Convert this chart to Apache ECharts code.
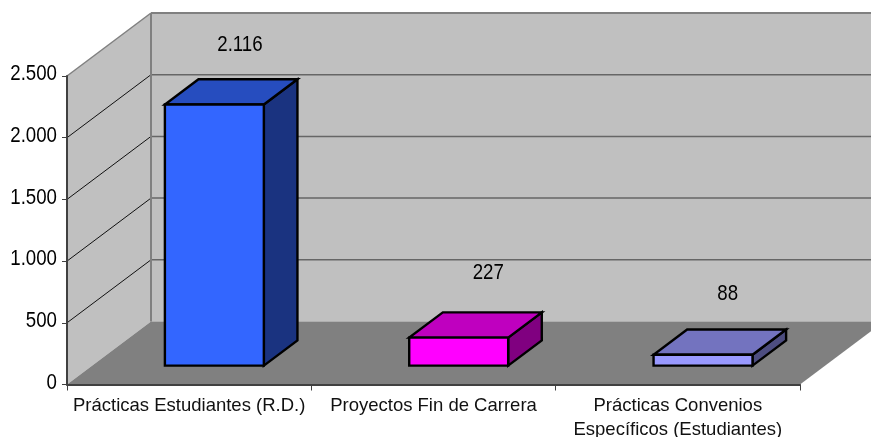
<!DOCTYPE html>
<html><head><meta charset="utf-8">
<style>html,body{margin:0;padding:0;background:#fff}#c{width:871px;height:437px}</style>
<script src="https://cdn.jsdelivr.net/npm/echarts@6/dist/echarts.min.js"></script>
</head><body><div id="c"></div>
<script>
const categories = ['Prácticas Estudiantes (R.D.)', 'Proyectos Fin de Carrera', 'Prácticas Convenios\nEspecíficos (Estudiantes)'];
const values = [2116, 227, 88];
const valueLabels = ['2.116', '227', '88'];
const yTicks = [0, 500, 1000, 1500, 2000, 2500];
const yTickLabels = ['0', '500', '1.000', '1.500', '2.000', '2.500'];
const frontColors = ['#3366FF', '#FF00FF', '#9999FF'];
const topColors = ['#264DBF', '#BF00BF', '#7373BF'];
const sideColors = ['#1A3380', '#800080', '#4D4D80'];

const DX = 84, DY = -63, BAR_FRONT = 0.3, BAR_BACK = 0.7, BAR_W = 0.405;
const SANS = '"Liberation Sans",Arial,sans-serif';
const NARROW_SIZE = 22.5, NARROW_SCALE = 0.83;
const LABEL_NUDGE_X = [-8, -4, -9], LABEL_NUDGE_Y = [-34, -40, -36];

function shift(p, d) { return [p[0] + DX * d, p[1] + DY * d]; }
function poly(points, fill, stroke, lw) {
  return { type: 'polygon', shape: { points }, style: { fill, stroke: stroke || 'none', lineWidth: lw || 0, lineJoin: 'miter' } };
}
function line(a, b, stroke, lw) {
  return { type: 'line', shape: { x1: a[0], y1: a[1], x2: b[0], y2: b[1] }, style: { stroke, lineWidth: lw } };
}
function narrowText(text, x, y, align) {
  return { type: 'text', x, y, scaleX: NARROW_SCALE,
    style: { text, x: 0, y: 0, align, verticalAlign: 'middle', fill: '#000', fontSize: NARROW_SIZE, fontFamily: SANS } };
}

function renderWalls(params, api) {
  const half = api.size([1, 0])[0] / 2;
  const maxV = yTicks[yTicks.length - 1];
  const L = v => { const p = api.coord([0, v]); return [p[0] - half, p[1]]; };
  const R = v => { const p = api.coord([categories.length - 1, v]); return [p[0] + half, p[1]]; };
  const kids = [];
  kids.push(poly([shift(L(0), 1), shift(R(0), 1), shift(R(maxV), 1), shift(L(maxV), 1)], '#C0C0C0'));
  kids.push(poly([L(0), shift(L(0), 1), shift(L(maxV), 1), L(maxV)], '#C0C0C0'));
  kids.push(poly([L(0), R(0), shift(R(0), 1), shift(L(0), 1)], '#808080'));
  yTicks.forEach((v, i) => {
    kids.push(narrowText(yTickLabels[i], L(v)[0] - 10, L(v)[1] - 2, 'right'));
    if (v === 0) return;
    if (v === maxV) {
      kids.push(line(L(v), shift(L(v), 1), '#808080', 1.5));
      kids.push(line(shift(L(v), 1), shift(R(v), 1), '#808080', 2));
    } else {
      kids.push(line(L(v), shift(L(v), 1), '#111111', 1));
      kids.push(line(shift(L(v), 1), shift(R(v), 1), '#666666', 1.5));
    }
  });
  kids.push(line(shift(L(0), 1), shift(L(maxV), 1), '#808080', 2));
  return { type: 'group', children: kids };
}

function renderBar(params, api) {
  const i = api.value(0), v = api.value(1);
  const w = api.size([1, 0])[0] * BAR_W;
  const b = api.coord([i, 0]), t = api.coord([i, v]);
  const lb = [b[0] - w / 2, b[1]], rb = [b[0] + w / 2, b[1]];
  const lt = [t[0] - w / 2, t[1]], rt = [t[0] + w / 2, t[1]];
  const f = p => shift(p, BAR_FRONT), k = p => shift(p, BAR_BACK);
  const blk = '#000000';
  const backTop = k(t);
  return {
    type: 'group',
    children: [
      poly([f(rb), k(rb), k(rt), f(rt)], sideColors[i], blk, 2.4),
      poly([f(lt), f(rt), k(rt), k(lt)], topColors[i], blk, 2.4),
      poly([f(lb), f(rb), f(rt), f(lt)], frontColors[i], blk, 2.4),
      narrowText(valueLabels[i], backTop[0] + LABEL_NUDGE_X[i], backTop[1] + LABEL_NUDGE_Y[i], 'center')
    ]
  };
}

const chart = echarts.init(document.getElementById('c'), null, { renderer: 'canvas' });
chart.setOption({
  animation: false,
  grid: { left: 67, right: 71, top: 76, bottom: 52.5, containLabel: false, outerBoundsMode: 'none' },
  xAxis: {
    type: 'category', data: categories, boundaryGap: true, z: 5,
    axisLine: { show: true, lineStyle: { color: '#404040', width: 2 } },
    axisTick: { show: true, alignWithLabel: false, length: 6, lineStyle: { color: '#404040', width: 1 } },
    axisLabel: { interval: 0, color: '#111', fontSize: 18.5, lineHeight: 24, margin: 9, hideOverlap: false, fontFamily: SANS }
  },
  yAxis: {
    type: 'value', min: 0, max: 2500, interval: 500, z: 5,
    splitLine: { show: false },
    axisLine: { show: true, lineStyle: { color: '#404040', width: 2 } },
    axisTick: { show: true, length: 5, lineStyle: { color: '#404040', width: 1 } },
    axisLabel: { show: false }
  },
  series: [
    { type: 'custom', z: 1, silent: true, clip: false, renderItem: renderWalls, data: [[0, 0]], encode: { x: 0, y: 1 } },
    { type: 'custom', z: 3, clip: false, renderItem: renderBar, data: values.map((v, i) => [i, v]), encode: { x: 0, y: 1 } }
  ]
});
</script></body></html>
